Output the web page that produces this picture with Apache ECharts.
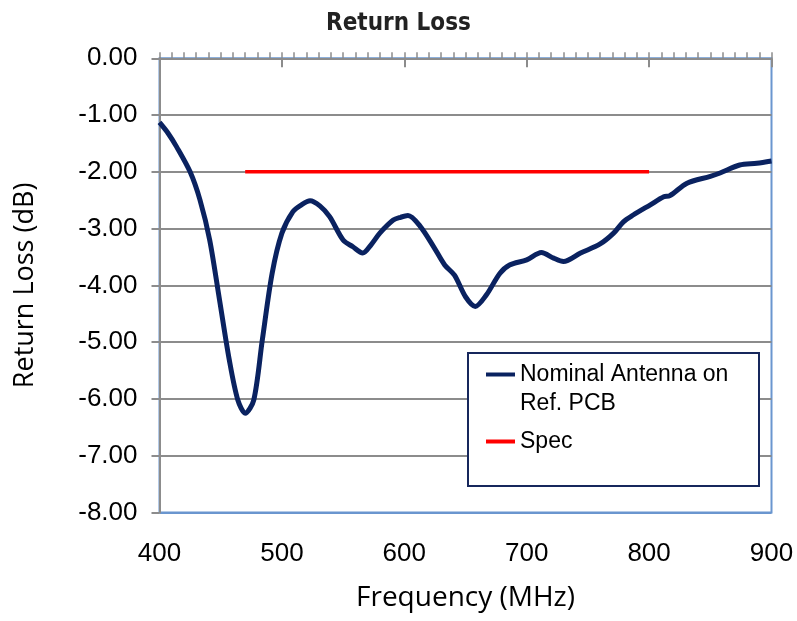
<!DOCTYPE html>
<html>
<head>
<meta charset="utf-8">
<script src="https://cdn.jsdelivr.net/npm/echarts@6/dist/echarts.min.js"></script>
<style>
html,body{margin:0;padding:0;background:#fff;}
#chart{width:797px;height:621px;}
</style>
</head>
<body>
<div id="chart"></div>
<script>
// Data
const freqMHz = [400, 407, 414, 425, 433, 441, 449, 457, 464, 470, 477, 484, 492, 500, 509, 516, 523, 531, 539, 550, 558, 566, 573, 580, 591, 597, 603, 613, 624, 633, 641, 650, 658, 667, 678, 686, 700, 712, 722, 730, 744, 760, 771, 779, 787, 801, 812, 817, 831, 850, 858, 874, 888, 900];
const returnLossDb = [-1.13, -1.32, -1.56, -2.00, -2.49, -3.20, -4.25, -5.31, -6.02, -6.25, -6.02, -4.96, -3.79, -3.08, -2.70, -2.58, -2.51, -2.60, -2.79, -3.20, -3.32, -3.43, -3.28, -3.08, -2.85, -2.80, -2.77, -2.96, -3.32, -3.64, -3.82, -4.20, -4.37, -4.17, -3.79, -3.64, -3.55, -3.42, -3.52, -3.58, -3.43, -3.27, -3.08, -2.88, -2.76, -2.58, -2.44, -2.42, -2.20, -2.08, -2.02, -1.88, -1.85, -1.81];
const specFreqMHz = [470, 800];
const specDb = [-2, -2];
const seriesNames = ['Nominal Antenna on Ref. PCB', 'Spec'];
const xTicks = [400, 500, 600, 700, 800, 900];
const yTicks = [-8, -7, -6, -5, -4, -3, -2, -1, 0];

const gray = '#8C8C8C';
const frameBlue = '#6A96CF';

const chart = echarts.init(document.getElementById('chart'));
const splitColors = yTicks.map((v, i) => i === 0 ? frameBlue : gray);

const option = {
  animation: false,
  title: {
    text: 'Return Loss',
    left: 'center',
    top: 7,
    textStyle: { fontFamily: 'DejaVu Sans Condensed', fontWeight: 'bold', fontSize: 24, color: '#222' }
  },
  grid: {
    left: 159.5, right: 25.5, top: 58.3, bottom: 108.5,
    show: true, borderColor: frameBlue, borderWidth: 2, backgroundColor: 'transparent'
  },
  legend: {
    orient: 'vertical',
    left: 486,
    top: 331,
    padding: 0,
    itemGap: 9,
    itemWidth: 29,
    itemHeight: 4,
    icon: 'rect',
    selectedMode: false,
    data: seriesNames,
    formatter: function (name) {
      return name === seriesNames[0] ? '\nNominal Antenna on\nRef. PCB' : name;
    },
    textStyle: { fontFamily: 'Liberation Sans', fontSize: 23, lineHeight: 29, color: '#000' }
  },
  graphic: [{
    type: 'rect', z: 3,
    shape: { x: 468, y: 353, width: 291, height: 133 },
    style: { fill: '#fff', stroke: '#17275C', lineWidth: 2 }
  }],
  xAxis: [{
    type: 'value', position: 'bottom',
    min: xTicks[0], max: xTicks[xTicks.length - 1], interval: 100,
    axisLine: { show: false, onZero: false },
    axisTick: { show: false },
    splitLine: { show: false },
    axisLabel: { margin: 28, fontFamily: 'Liberation Sans', fontSize: 26, color: '#000' },
    name: 'Frequency (MHz)', nameLocation: 'middle', nameGap: 72,
    nameTextStyle: { fontFamily: 'Open Sans', fontSize: 28, color: '#000' }
  }, {
    type: 'value', position: 'top',
    min: xTicks[0], max: xTicks[xTicks.length - 1], interval: 100,
    axisLine: { show: true, onZero: false, lineStyle: { color: gray, width: 2 } },
    axisTick: { show: true, inside: true, length: 9, lineStyle: { color: gray, width: 2 } },
    axisLabel: { show: false }, splitLine: { show: false }
  }, {
    type: 'value', position: 'top',
    min: xTicks[0], max: xTicks[xTicks.length - 1], interval: 100,
    axisLine: { show: false, onZero: false },
    axisTick: { show: true, inside: false, length: 6, lineStyle: { color: gray, width: 1.5 } },
    minorTick: { show: true, splitNumber: 10, length: 6, lineStyle: { color: gray, width: 1.5 } },
    axisLabel: { show: false }, splitLine: { show: false }
  }],
  yAxis: {
    type: 'value', min: yTicks[0], max: yTicks[yTicks.length - 1], interval: 1,
    axisLine: { show: true, onZero: false, lineStyle: { color: gray, width: 2 } },
    axisTick: { show: true, length: 8, lineStyle: { color: gray, width: 2 } },
    splitLine: { show: true, lineStyle: { color: splitColors, width: 2 } },
    axisLabel: { margin: 22, fontFamily: 'Liberation Sans', fontSize: 26, color: '#000',
      formatter: v => v.toFixed(2) },
    name: 'Return Loss (dB)', nameLocation: 'middle', nameGap: 121,
    nameTextStyle: { fontFamily: 'Open Sans', fontSize: 27, color: '#000' }
  },
  series: [{
    name: seriesNames[0], type: 'line', xAxisIndex: 0, smooth: 0.3, symbol: 'none', z: 5,
    lineStyle: { color: '#0A2260', width: 5 }, itemStyle: { color: '#0A2260' },
    data: freqMHz.map((f, i) => [f, returnLossDb[i]])
  }, {
    name: seriesNames[1], type: 'line', xAxisIndex: 0, symbol: 'none', z: 4,
    lineStyle: { color: '#FF0000', width: 3.5 }, itemStyle: { color: '#FF0000' },
    data: specFreqMHz.map((f, i) => [f, specDb[i]])
  }]
};
chart.setOption(option);
</script>
</body>
</html>
